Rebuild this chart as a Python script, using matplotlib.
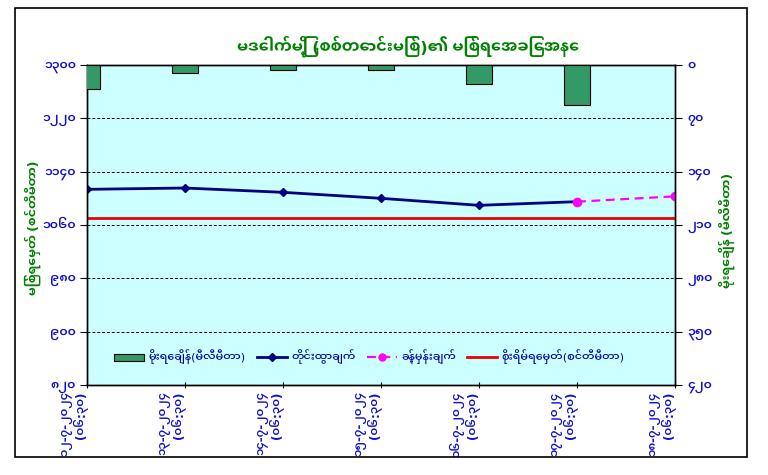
import matplotlib
matplotlib.use('Agg')
import numpy as np
import matplotlib.pyplot as plt
from matplotlib import font_manager
from matplotlib.lines import Line2D
from matplotlib.patches import Patch, Rectangle

# ---------------- data ----------------
categories = [
    "၁၂-၇-၂၀၂၄\n(၀၆:၃၀)",
    "၁၃-၇-၂၀၂၄\n(၀၆:၃၀)",
    "၁၄-၇-၂၀၂၄\n(၀၆:၃၀)",
    "၁၅-၇-၂၀၂၄\n(၀၆:၃၀)",
    "၁၆-၇-၂၀၂၄\n(၀၆:၃၀)",
    "၁၇-၇-၂၀၂၄\n(၀၆:၃၀)",
    "၁၈-၇-၂၀၂၄\n(၀၆:၃၀)",
]
rainfall = [32, 10, 6, 6, 25, 52]                       # mm (right axis)
observed = [1113.5, 1115.5, 1109, 1100, 1089.5, 1095]  # cm (left axis)
forecast = [1095, 1103]                                 # last observed + forecast
danger_level = 1070

left_ticks = [820, 900, 980, 1060, 1140, 1220, 1300]
left_tick_labels = ["၈၂၀", "၉၀၀", "၉၈၀", "၁၀၆၀", "၁၁၄၀", "၁၂၂၀", "၁၃၀၀"]
right_ticks = [0, 70, 140, 210, 280, 350, 420]
right_tick_labels = ["၀", "၇၀", "၁၄၀", "၂၁၀", "၂၈၀", "၃၅၀", "၄၂၀"]

title = "မဒေါက်မြို့ (စစ်တောင်းမြစ်)၏ မြစ်ရေအခြေအနေ"
left_title = "မြစ်ရေမှတ် (စင်တီမီတာ)"
right_title = "မိုးရေချိန် (မီလီမီတာ)"
legend_labels = ["မိုးရေချိန်(မီလီမီတာ)", "တိုင်းထွာချက်", "ခန့်မှန်းချက်",
                 "စိုးရိမ်ရေမှတ်(စင်တီမီတာ)"]

# ---------------- fonts ----------------
for path in font_manager.findSystemFonts():
    if 'NotoSansMyanmar' in path:
        try:
            font_manager.fontManager.addfont(path)
        except Exception:
            pass
plt.rcParams['font.family'] = ['Noto Sans Myanmar UI', 'DejaVu Sans']

W, H = 768, 475
fig = plt.figure(figsize=(W / 100, H / 100), dpi=100)
fig.patch.set_facecolor('white')

ax = fig.add_axes([87 / W, 1 - 385 / H, (675 - 87) / W, (385 - 65) / H])
ax.set_facecolor('#CCFFFF')
ax2 = ax.twinx()

x = np.arange(len(categories))

# bars (rainfall) on inverted right axis
ax2.bar(x[:len(rainfall)], rainfall, width=0.26, color='#339966',
        edgecolor='black', linewidth=0.8, zorder=3)
ax2.set_ylim(420, 0)
ax2.set_yticks(right_ticks)
ax2.set_yticklabels(right_tick_labels)

# lines on left axis
ax.plot(x[:len(observed)], observed, color='#000080', lw=2, marker='D',
        markersize=4, zorder=4)
ax.plot(x[len(observed) - 1:], forecast, color='#FF00FF', lw=1.6,
        linestyle=(0, (4, 2.5)), marker='o', markersize=6, zorder=5)
ax.axhline(danger_level, color='#EE0000', lw=2, zorder=3)

ax.set_xlim(0, len(categories) - 1)
ax.set_ylim(820, 1300)
ax.set_yticks(left_ticks)
ax.set_yticklabels(left_tick_labels)
ax.set_xticks(x)
ax.set_xticklabels(categories, rotation=90, ha='right', va='top',
                   multialignment='right', linespacing=1.0)
ax.yaxis.grid(True, linestyle=(0, (3, 2)), color='black', lw=0.7)
ax.set_axisbelow(True)

blue = '#1010CC'
for a in (ax, ax2):
    for s in a.spines.values():
        s.set_color('black')
        s.set_linewidth(1.0)
ax.tick_params(axis='y', direction='out', length=5, colors='black',
               labelcolor=blue, labelsize=9, pad=3)
ax.tick_params(axis='x', direction='inout', length=5, colors='black',
               labelcolor=blue, labelsize=8.5, pad=2)
ax2.tick_params(axis='y', direction='out', length=5, colors='black',
                labelcolor=blue, labelsize=9, pad=4)
for lab in ax.get_xticklabels() + ax.get_yticklabels() + ax2.get_yticklabels():
    lab.set_fontweight('semibold')

# titles
green = '#008000'
fig.text(408 / W, 1 - 46 / H, title, ha='center', va='center',
         fontsize=11.5, fontweight='bold', color=green)
fig.text(33 / W, 1 - 228 / H, left_title, ha='center', va='center',
         rotation=90, fontsize=9, fontweight='bold', color=green)
fig.text(727 / W, 1 - 230 / H, right_title, ha='center', va='center',
         rotation=90, fontsize=9, fontweight='bold', color=green)

# legend
handles = [
    Patch(facecolor='#339966', edgecolor='black', linewidth=0.8),
    Line2D([], [], color='#000080', lw=2, marker='D', markersize=4),
    Line2D([], [], color='#FF00FF', lw=1.6, linestyle=(0, (4, 2.5)),
           marker='o', markersize=5),
    Line2D([], [], color='#EE0000', lw=2),
]
leg = ax2.legend(handles, legend_labels, loc='center',
                 bbox_to_anchor=(0.48, 0.0875), ncol=4, frameon=False,
                 handlelength=2.7, columnspacing=1.0, handletextpad=0.4,
                 prop={'weight': 'medium', 'size': 8})
for t in leg.get_texts():
    t.set_color('#000099')

# outer chart frame
fig.patches.append(Rectangle((15 / W, 1 - 457 / H), (747 - 15) / W,
                             (457 - 8) / H, transform=fig.transFigure,
                             fill=False, edgecolor='black', lw=1.2))

fig.savefig('out.png', dpi=100)
